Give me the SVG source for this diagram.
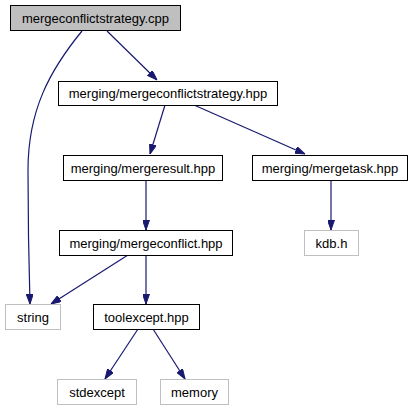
<svg xmlns="http://www.w3.org/2000/svg" width="415" height="411" viewBox="0 0 415 411">
<style>
.n rect{fill:#fff;stroke:#000;stroke-width:1}
.n.root rect{fill:#bfbfbf}
.n.ext rect{stroke:#bfbfbf}
.n text{font-family:"Liberation Sans",Arial,sans-serif;font-size:13px;fill:#000;text-anchor:middle}
.e{fill:none;stroke:#191970;stroke-width:1.2;marker-end:url(#ah)}
</style>
<defs>
<marker id="ah" viewBox="0 0 10 7" refX="10" refY="3.5" markerWidth="10" markerHeight="7" markerUnits="userSpaceOnUse" orient="auto">
<path d="M0,0 L10,3.5 L0,7 z" fill="#191970" stroke="#191970"/>
</marker>
</defs>
<rect width="415" height="411" fill="#fff"/>
<g id="edges">
<path class="e" d="M107,31 L157,80"/>
<path class="e" d="M82,31 C50,70 28,110 28,170 C28,230 29,270 30,304"/>
<path class="e" d="M165,105 L150,154"/>
<path class="e" d="M194,105 L305,154"/>
<path class="e" d="M146,180 L146,230"/>
<path class="e" d="M128,255 L51,304"/>
<path class="e" d="M146,255 L146,304"/>
<path class="e" d="M138,329 L105,379"/>
<path class="e" d="M153,329 L185,379"/>
<path class="e" d="M331,180 L331,230"/>
</g>
<g id="node-cpp" class="n root"><rect x="10.5" y="5.5" width="170" height="25"/><text x="95.5" y="22.5">mergeconflictstrategy.cpp</text></g>
<g id="node-strategy" class="n"><rect x="58.5" y="81.5" width="219" height="24"/><text x="168" y="98">merging/mergeconflictstrategy.hpp</text></g>
<g id="node-result" class="n"><rect x="63.5" y="155.5" width="159" height="25"/><text x="143" y="172.5">merging/mergeresult.hpp</text></g>
<g id="node-task" class="n"><rect x="252.5" y="155.5" width="155" height="25"/><text x="330" y="172.5">merging/mergetask.hpp</text></g>
<g id="node-conflict" class="n"><rect x="59.5" y="230.5" width="173" height="25"/><text x="146" y="247.5">merging/mergeconflict.hpp</text></g>
<g id="node-kdb" class="n ext"><rect x="304.5" y="230.5" width="54" height="25"/><text x="331.5" y="247.5">kdb.h</text></g>
<g id="node-string" class="n ext"><rect x="5.5" y="304.5" width="55" height="25"/><text x="33" y="321.5">string</text></g>
<g id="node-toolexcept" class="n"><rect x="93.5" y="304.5" width="106" height="25"/><text x="146.5" y="321.5">toolexcept.hpp</text></g>
<g id="node-stdexcept" class="n ext"><rect x="57.5" y="379.5" width="79" height="25"/><text x="97" y="396.5">stdexcept</text></g>
<g id="node-memory" class="n ext"><rect x="160.5" y="379.5" width="68" height="25"/><text x="194.5" y="396.5">memory</text></g>
</svg>
